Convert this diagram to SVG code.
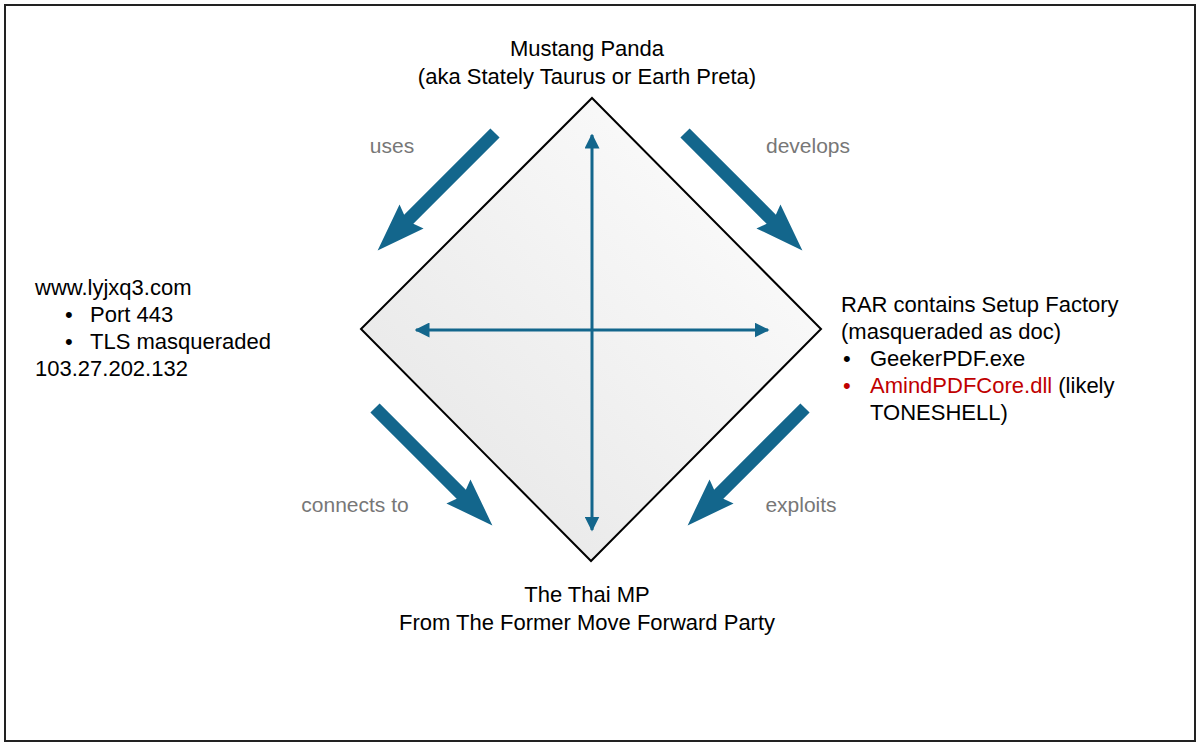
<svg xmlns="http://www.w3.org/2000/svg" width="1200" height="746" viewBox="0 0 1200 746">
<defs>
<linearGradient id="g" x1="0" y1="1" x2="1" y2="0"><stop offset="0" stop-color="#e4e4e4"/><stop offset="1" stop-color="#ffffff"/></linearGradient>
<path id="fat" d="M0,-6.5 L122,-6.5 L118,-17 L166,0 L118,17 L122,6.5 L0,6.5Z" fill="#13668c"/>
<marker id="ah" viewBox="0 0 10 10" refX="9" refY="5" markerWidth="5" markerHeight="5" orient="auto-start-reverse"><path d="M0,0 L10,5 L0,10Z" fill="#13668c"/></marker>
</defs>
<style>
text{font-family:"Liberation Sans",Arial,sans-serif;font-size:22px;fill:#000}
.lbl{fill:#777;font-size:21px}
.red{fill:#c00000}
</style>
<rect x="0" y="0" width="1200" height="746" fill="#fff"/>
<rect x="5" y="5" width="1190" height="736" fill="none" stroke="#222" stroke-width="2"/>
<g id="diamond"><path d="M592,98 L821,329 L591,561 L361,329Z" fill="url(#g)" stroke="#000" stroke-width="2"/></g>
<g id="connectors">
<line x1="592" y1="135" x2="592" y2="530" stroke="#13668c" stroke-width="3" marker-start="url(#ah)" marker-end="url(#ah)"/>
<line x1="416" y1="330" x2="768" y2="330" stroke="#13668c" stroke-width="3" marker-start="url(#ah)" marker-end="url(#ah)"/>
<use href="#fat" transform="translate(495,133) rotate(135)"/>
<use href="#fat" transform="translate(685,133) rotate(45)"/>
<use href="#fat" transform="translate(375,408) rotate(45)"/>
<use href="#fat" transform="translate(805,408) rotate(135)"/>
<text class="lbl" x="392" y="153" text-anchor="middle">uses</text>
<text class="lbl" x="808" y="153" text-anchor="middle">develops</text>
<text class="lbl" x="355" y="512" text-anchor="middle">connects to</text>
<text class="lbl" x="801" y="512" text-anchor="middle">exploits</text>
</g>
<g id="top"><text x="587" y="56" text-anchor="middle">Mustang Panda</text><text x="587" y="84" text-anchor="middle">(aka Stately Taurus or Earth Preta)</text></g>
<g id="bottom"><text x="587" y="602" text-anchor="middle">The Thai MP</text><text x="587" y="630" text-anchor="middle">From The Former Move Forward Party</text></g>
<g id="left">
<text x="35" y="295">www.lyjxq3.com</text>
<text x="65" y="322">•</text><text x="90" y="322">Port 443</text>
<text x="65" y="349">•</text><text x="90" y="349">TLS masqueraded</text>
<text x="35" y="376">103.27.202.132</text>
</g>
<g id="right">
<text x="841" y="312">RAR contains Setup Factory</text>
<text x="841" y="339">(masqueraded as doc)</text>
<text x="843" y="366">•</text><text x="870" y="366">GeekerPDF.exe</text>
<text x="843" y="393" class="red">•</text><text x="870" y="393"><tspan class="red">AmindPDFCore.dll</tspan> (likely</text>
<text x="870" y="420">TONESHELL)</text>
</g>
</svg>
